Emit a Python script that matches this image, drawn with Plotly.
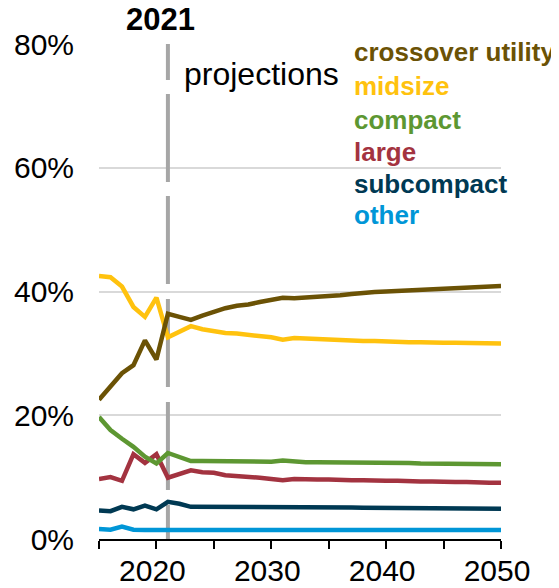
import plotly.graph_objects as go

# 年份与各车型份额 (%)
years = list(range(2015, 2051))

crossover = [22.5, 24.7, 26.8, 28.1, 32.1, 29.0, 36.4, 35.9, 35.4, 36.1,
             36.7, 37.3, 37.7, 37.9, 38.3, 38.6, 39.0, 38.9, 39.0, 39.1,
             39.2, 39.4, 39.6, 39.8, 39.9, 40.0, 40.1, 40.2, 40.3, 40.4,
             40.5, 40.6, 40.7, 40.8, 40.8, 40.9]
midsize = [42.5, 42.3, 40.8, 37.5, 35.9, 39.0, 32.6, 33.6, 34.4, 33.9,
           33.6, 33.3, 33.2, 33.0, 32.9, 32.6, 32.2, 32.5, 32.4, 32.3,
           32.3, 32.2, 32.1, 32.0, 32.0, 31.9, 31.9, 31.8, 31.8, 31.7,
           31.7, 31.7, 31.7, 31.6, 31.6, 31.6]
compact = [19.7, 17.6, 16.2, 14.9, 13.3, 12.2, 13.9, 13.2, 12.6, 12.6,
           12.6, 12.6, 12.6, 12.5, 12.5, 12.5, 12.7, 12.5, 12.4, 12.4,
           12.4, 12.4, 12.3, 12.3, 12.3, 12.3, 12.3, 12.3, 12.2, 12.2,
           12.2, 12.2, 12.1, 12.1, 12.1, 12.1]
large = [9.7, 10.0, 9.4, 13.7, 12.3, 13.7, 9.9, 10.5, 11.1, 10.8,
         10.7, 10.3, 10.2, 10.1, 9.9, 9.7, 9.5, 9.7, 9.6, 9.6,
         9.6, 9.5, 9.5, 9.5, 9.4, 9.4, 9.4, 9.3, 9.3, 9.3,
         9.2, 9.2, 9.2, 9.1, 9.1, 9.1]
subcompact = [4.6, 4.5, 5.2, 4.8, 5.4, 4.8, 6.0, 5.7, 5.2, 5.2,
              5.2, 5.2, 5.2, 5.2, 5.2, 5.2, 5.25, 5.2, 5.1, 5.1,
              5.1, 5.1, 5.1, 5.05, 5.05, 5.0, 5.0, 5.0, 5.0, 5.0,
              5.0, 4.95, 4.95, 4.9, 4.9, 4.9]
other = [1.6, 1.5, 2.0, 1.5, 1.45, 1.45, 1.45, 1.45, 1.45, 1.45,
         1.45, 1.45, 1.45, 1.45, 1.45, 1.45, 1.5, 1.45, 1.45, 1.45,
         1.45, 1.45, 1.45, 1.45, 1.45, 1.45, 1.45, 1.45, 1.45, 1.45,
         1.45, 1.45, 1.45, 1.45, 1.45, 1.45]

series_names = ['crossover utility', 'midsize', 'compact', 'large', 'subcompact', 'other']
series_values = [crossover, midsize, compact, large, subcompact, other]
colors = ['#6b5205', '#ffc20e', '#5d9732', '#a33340', '#003953', '#0096d7']

x_tickvals = [2015, 2020, 2025, 2030, 2035, 2040, 2045, 2050]
x_ticktext = ['', '2020', '', '2030', '', '2040', '', '2050']
y_tickvals = [0, 20, 40, 60, 80]
y_ticktext = ['0%', '20%', '40%', '60%', '80%']

FONT = 'Liberation Sans, Arial, sans-serif'

fig = go.Figure()

# 画线，后画的在上面：other 先画
for name, vals, color in reversed(list(zip(series_names, series_values, colors))):
    fig.add_trace(go.Scatter(x=years, y=vals, mode='lines', name=name,
                             line=dict(color=color, width=4.5), showlegend=False))

# 2021 分界虚线
fig.add_shape(type='line', x0=2021, x1=2021, y0=80, y1=0, xref='x', yref='y',
              line=dict(color='#a6a6a6', width=4,
                        dash='36px,14px,88px,14px,88px,15px,88px,15px,88px,15px,40px'),
              layer='between')

fig.add_annotation(x=2021, y=80, xref='x', yref='y', text='<b>2021</b>', showarrow=False,
                   yanchor='bottom', yshift=5, xshift=-7,
                   font=dict(family=FONT, size=31, color='black'))
fig.add_annotation(x=2022.2, y=75.2, xref='x', yref='y', text='projections', showarrow=False,
                   xanchor='left', yanchor='middle',
                   font=dict(family=FONT, size=32, color='black'))

# 图例文字
legend_y = [78.7, 73.2, 67.7, 62.6, 57.4, 52.4]
for name, color, ly in zip(series_names, colors, legend_y):
    fig.add_annotation(x=2037.0, y=ly, xref='x', yref='y', text=f'<b>{name}</b>',
                       showarrow=False, xanchor='left', yanchor='middle',
                       font=dict(family=FONT, size=26, color=color))

fig.update_xaxes(range=[2015, 2050], tickvals=x_tickvals, ticktext=x_ticktext,
                 showgrid=False, showline=True, linecolor='black', linewidth=1.5,
                 ticks='outside', ticklen=8, tickwidth=1.5, tickcolor='black',
                 tickfont=dict(family=FONT, size=30, color='black'), zeroline=False,
                 ticklabelstandoff=-4, ticklabelshift=-4, automargin=False)
fig.update_yaxes(range=[0, 80], tickvals=y_tickvals, ticktext=y_ticktext,
                 showgrid=True, gridcolor='#d9d9d9', gridwidth=1.5,
                 showline=False, zeroline=False, ticks='', ticklabelstandoff=24,
                 tickfont=dict(family=FONT, size=30, color='black'), automargin=False)

# 页面 body 自带 8px 边距，所以整体缩小 8px
fig.update_layout(width=551, height=580, margin=dict(l=91, r=58, t=36, b=49),
                  plot_bgcolor='white', paper_bgcolor='white', showlegend=False)

fig.write_html("out.html")
